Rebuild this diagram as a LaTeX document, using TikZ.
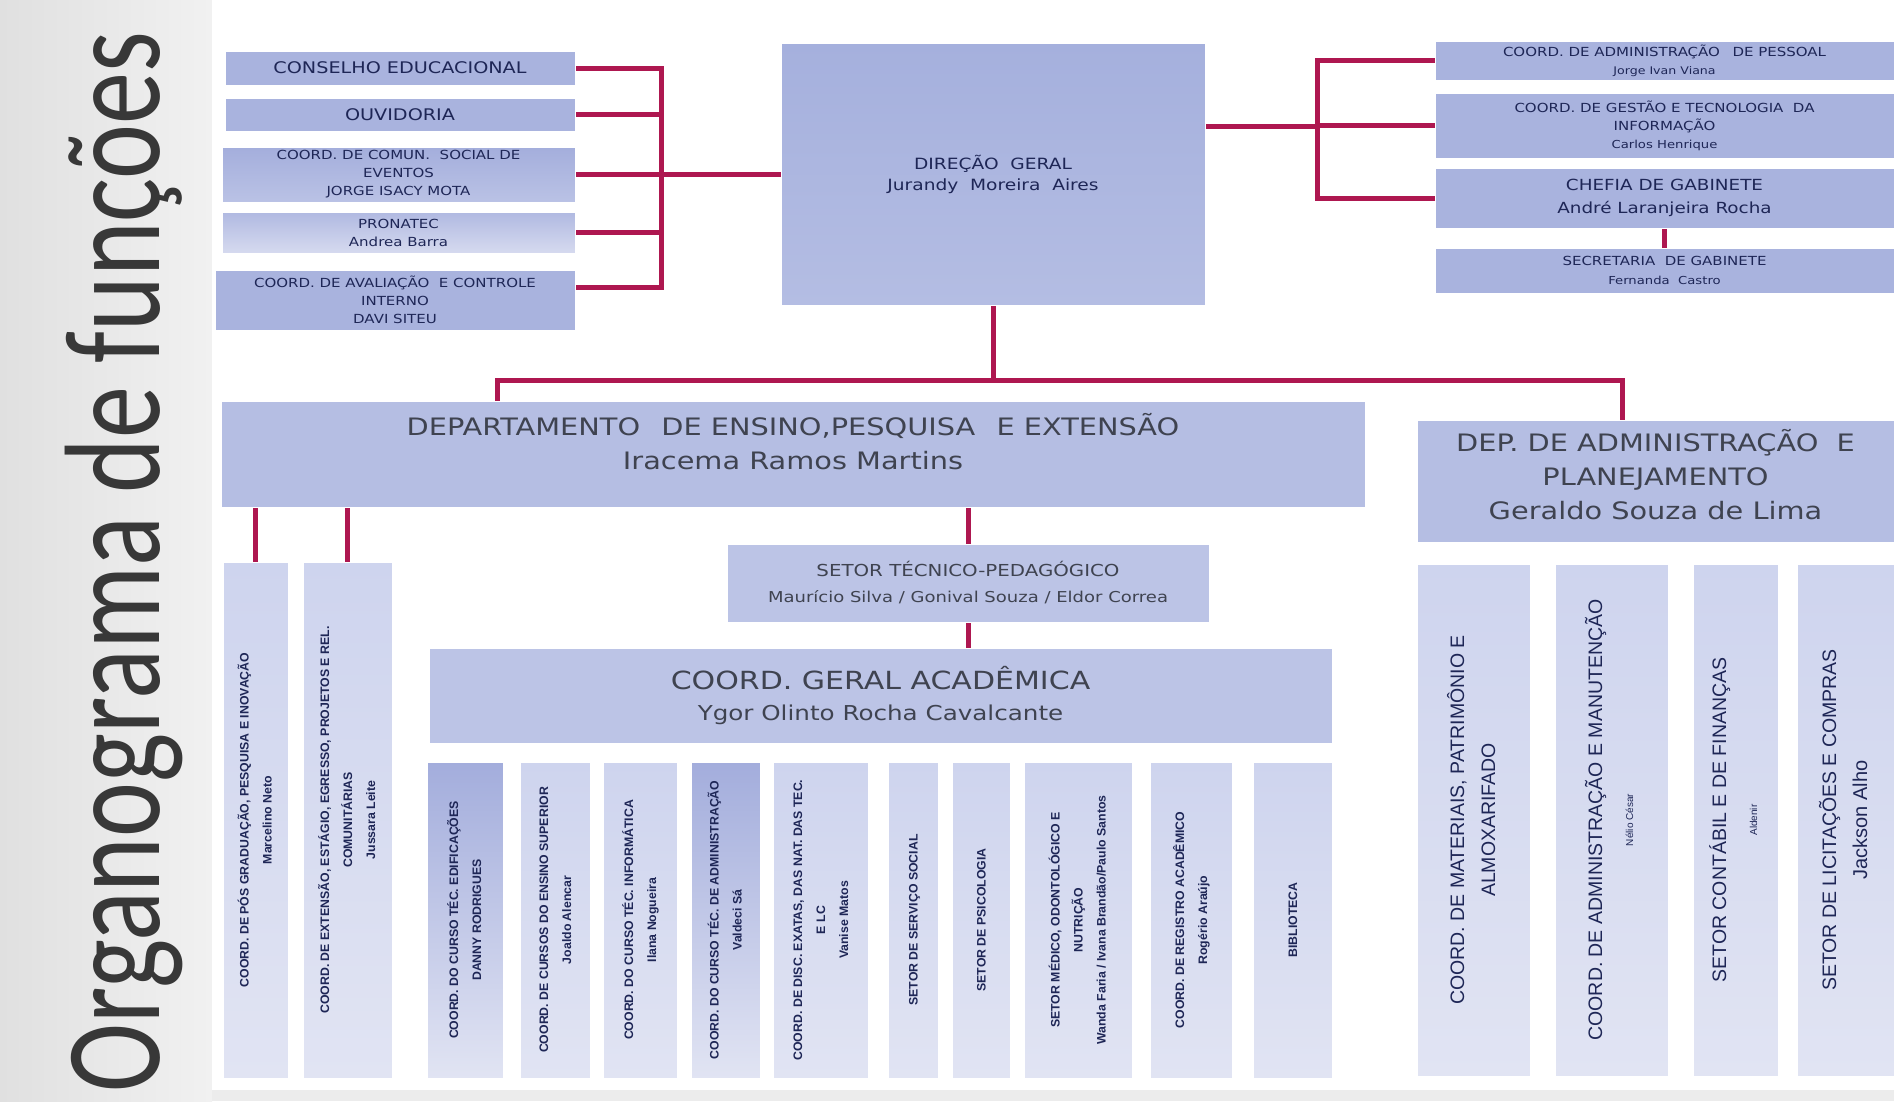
\documentclass[tikz,border=0pt]{standalone}
\usepackage{fontspec}
\usepackage{graphicx}
\setmainfont{DejaVu Sans}
\newfontfamily\wfont[FakeStretch=1.2]{DejaVu Sans}
\newfontfamily\nfont{Liberation Sans}
\newfontfamily\tfont{Carlito}
\definecolor{conncol}{HTML}{AE1750}
\definecolor{boxA}{HTML}{A9B3DE}
\definecolor{boxB}{HTML}{B5BEE3}
\definecolor{boxC}{HTML}{CED4EE}
\definecolor{boxCl}{HTML}{E1E4F3}
\definecolor{boxD}{HTML}{A3ADDC}
\definecolor{boxE}{HTML}{BCC4E6}
\definecolor{a3t}{HTML}{A4AEDC}
\definecolor{a3b}{HTML}{BAC2E5}
\definecolor{a4t}{HTML}{B0B9E1}
\definecolor{a4b}{HTML}{D6DAEF}
\definecolor{dt}{HTML}{A5B0DD}
\definecolor{db}{HTML}{B4BDE3}
\definecolor{navy}{HTML}{1E2656}
\definecolor{gtxt}{HTML}{3F4350}
\definecolor{titlecol}{HTML}{383838}
\definecolor{bggray}{HTML}{ECECEC}
\definecolor{stripL}{HTML}{E0E0E0}
\definecolor{stripR}{HTML}{F1F1F1}
\pgfdeclarelayer{bg}
\pgfdeclarelayer{lines}
\pgfsetlayers{bg,lines,main}
\newcommand{\vtext}[1]{\rotatebox{90}{\begin{tabular}{@{}c@{}}#1\end{tabular}}}
\begin{document}
\begin{tikzpicture}[x=1pt,y=-1pt,
  topbox/.style={draw=white, line width=1pt, inner sep=0pt, align=center, text=navy, fill=boxA},
  midbox/.style={draw=white, line width=1pt, inner sep=0pt, align=center, text=gtxt, fill=boxB},
  lowbox/.style={draw=white, line width=1pt, inner sep=0pt, text=navy, top color=boxC, bottom color=boxCl},
  conn/.style={draw=conncol, line width=5pt},
  smallf/.style={font=\wfont\fontsize{12.5}{18}\selectfont},
  midf/.style={font=\wfont\fontsize{16}{21}\selectfont},
  bigf/.style={font=\wfont\fontsize{24}{34}\selectfont},
  vf/.style={font=\nfont\bfseries\fontsize{12.3}{23}\selectfont},
  rf/.style={font=\nfont\fontsize{19.5}{31}\selectfont}
]
\useasboundingbox (0,0) rectangle (1894,1101);
\begin{pgfonlayer}{bg}
\fill[bggray] (0,0) rectangle (1894,1101);
\shade[left color=stripL, right color=stripR] (0,0) rectangle (212,1101);
\fill[white] (212,0) rectangle (1894,1090);
\end{pgfonlayer}

% title
\node[anchor=base west, rotate=90, inner sep=0pt, text=titlecol, font=\tfont\fontsize{136}{136}\selectfont] (title) at (159,1093) {\scalebox{0.765}[1]{Organograma de funções}};

% top-left boxes
\node[topbox, midf, minimum width=350, minimum height=34] (A1) at (400,68) {CONSELHO EDUCACIONAL};
\node[topbox, midf, minimum width=350, minimum height=33] (A2) at (400,114.5) {OUVIDORIA};
\node[topbox, smallf, minimum width=353, minimum height=55, top color=a3t, bottom color=a3b] (A3) at (398.5,174.5) {COORD. DE COMUN.\ \ SOCIAL DE\\EVENTOS\\JORGE ISACY MOTA};
\node[topbox, smallf, minimum width=353, minimum height=41, top color=a4t, bottom color=a4b] (A4) at (398.5,232.5) {PRONATEC\\Andrea Barra};
\node[topbox, smallf, minimum width=360, minimum height=60] (A5) at (395,300) {COORD. DE AVALIAÇÃO\ \ E CONTROLE\\INTERNO\\DAVI SITEU};

% direction
\node[topbox, font=\wfont\fontsize{15.5}{21}\selectfont, minimum width=424, minimum height=262, top color=dt, bottom color=db] (D) at (993,174) {DIREÇÃO\ \ GERAL\\Jurandy\ \ Moreira\ \ Aires};

% top-right boxes
\node[topbox, smallf, minimum width=459, minimum height=39] (B1) at (1664.5,60.5) {COORD. DE ADMINISTRAÇÃO\quad DE PESSOAL\\{\fontsize{10.5}{15}\selectfont Jorge Ivan Viana}};
\node[topbox, smallf, minimum width=459, minimum height=65] (B2) at (1664.5,125.5) {COORD. DE GESTÃO E TECNOLOGIA\ \ DA\\INFORMAÇÃO\\{\fontsize{11}{15}\selectfont Carlos Henrique}};
\node[topbox, font=\wfont\fontsize{15.3}{23}\selectfont, minimum width=459, minimum height=60] (B3) at (1664.5,198) {CHEFIA DE GABINETE\\André Laranjeira Rocha};
\node[topbox, font=\wfont\fontsize{12.5}{19}\selectfont, minimum width=459, minimum height=45] (B4) at (1664.5,270.5) {SECRETARIA\ \ DE GABINETE\\{\fontsize{11}{15}\selectfont Fernanda\ \ Castro}};

% departments
\node[midbox, minimum width=1144, minimum height=106] (DEPT) at (793,454) {};
\node[inner sep=0pt, align=center, text=gtxt, bigf] (DEPTtxt) at ([yshift=12pt]DEPT.center) {DEPARTAMENTO\enspace\ DE ENSINO,PESQUISA\enspace\ E EXTENSÃO\\Iracema\ Ramos\ Martins};
\node[midbox, minimum width=477, minimum height=122] (DEPADM) at (1655.5,481) {};
\node[inner sep=0pt, align=center, text=gtxt, bigf] (DEPADMtxt) at ([yshift=6pt]DEPADM.center) {DEP. DE ADMINISTRAÇÃO\ \ E\\PLANEJAMENTO\\Geraldo Souza de Lima};

\node[midbox, font=\wfont\fontsize{16.5}{26}\selectfont, fill=boxE, minimum width=482, minimum height=78] (ST) at (968,583) {SETOR TÉCNICO-PEDAGÓGICO\\{\fontsize{15}{20}\selectfont Maurício Silva / Gonival Souza / Eldor Correa}};
\node[midbox, font=\wfont\fontsize{25}{31}\selectfont, fill=boxE, minimum width=903, minimum height=95] (CGA) at (880.5,695.5) {COORD. GERAL ACADÊMICA\\{\fontsize{20.5}{28}\selectfont Ygor Olinto Rocha Cavalcante}};

% left vertical boxes
\node[lowbox, vf, minimum width=65, minimum height=516] (L1) at (255.5,820) {\vtext{COORD. DE PÓS GRADUAÇÃO, PESQUISA E INOVAÇÃO\\Marcelino Neto}};
\node[lowbox, vf, minimum width=89, minimum height=516] (L2) at (347.5,820) {\vtext{COORD. DE EXTENSÃO, ESTÁGIO, EGRESSO, PROJETOS E REL.\\COMUNITÁRIAS\\Jussara Leite}};

% academic boxes
\node[lowbox, vf, minimum width=76, minimum height=316, top color=boxD] (C1) at (465,920) {\vtext{COORD. DO CURSO TÉC. EDIFICAÇÕES\\DANNY RODRIGUES}};
\node[lowbox, vf, minimum width=70, minimum height=316] (C2) at (555,920) {\vtext{COORD. DE CURSOS DO ENSINO SUPERIOR\\Joaldo Alencar}};
\node[lowbox, vf, minimum width=74, minimum height=316] (C3) at (640,920) {\vtext{COORD. DO CURSO TÉC. INFORMÁTICA\\Ilana Nogueira}};
\node[lowbox, vf, minimum width=69, minimum height=316, top color=boxD] (C4) at (725.5,920) {\vtext{COORD. DO CURSO TÉC. DE ADMINISTRAÇÃO\\Valdeci Sá}};
\node[lowbox, vf, minimum width=95, minimum height=316] (C5) at (820.5,920) {\vtext{COORD. DE DISC. EXATAS, DAS NAT. DAS TEC.\\E LC\\Vanise Matos}};
\node[lowbox, vf, minimum width=50, minimum height=316] (C6) at (913,920) {\vtext{SETOR DE SERVIÇO SOCIAL}};
\node[lowbox, vf, minimum width=58, minimum height=316] (C7) at (981,920) {\vtext{SETOR DE PSICOLOGIA}};
\node[lowbox, vf, minimum width=108, minimum height=316] (C8) at (1078,920) {\vtext{SETOR MÉDICO, ODONTOLÓGICO E\\NUTRIÇÃO\\Wanda Faria / Ivana Brandão/Paulo Santos}};
\node[lowbox, vf, minimum width=82, minimum height=316] (C9) at (1191,920) {\vtext{COORD. DE REGISTRO ACADÊMICO\\Rogério Araújo}};
\node[lowbox, vf, minimum width=79, minimum height=316] (C10) at (1292.5,920) {\vtext{BIBLIOTECA}};

% administration boxes
\node[lowbox, rf, minimum width=113, minimum height=512] (R1) at (1473.5,820) {\vtext{COORD. DE MATERIAIS,\ PATRIMÔNIO E\\ALMOXARIFADO}};
\node[lowbox, rf, minimum width=113, minimum height=512] (R2) at (1611.5,820) {\vtext{COORD. DE ADMINISTRAÇÃO\ E MANUTENÇÃO\\{\fontsize{10}{12}\selectfont Nélio César}}};
\node[lowbox, rf, minimum width=85, minimum height=512] (R3) at (1735.5,820) {\vtext{SETOR\ CONTÁBIL E DE FINANÇAS\\{\fontsize{10}{12}\selectfont Aldenir}}};
\node[lowbox, rf, minimum width=97, minimum height=512] (R4) at (1845.5,820) {\vtext{SETOR DE LICITAÇÕES E COMPRAS\\{\fontsize{20}{24}\selectfont Jackson Alho}}};

% connectors
\coordinate (LB) at (661,174);
\coordinate (RB) at (1317,126);
\coordinate (HL) at (497,380);
\coordinate (HR) at (1622,380);
\begin{pgfonlayer}{lines}
\draw[conn] (A1.east) -- (A1.east -| LB);
\draw[conn] (A2.east) -- (A2.east -| LB);
\draw[conn] (A3.east) -- (A3.east -| LB);
\draw[conn] (A4.east) -- (A4.east -| LB);
\draw[conn] ([yshift=13pt]A5.east) -- ([yshift=13pt]A5.east -| LB);
\draw[conn, line cap=rect] (A1.east -| LB) -- ([yshift=13pt]A5.east -| LB);
\draw[conn] (LB) -- (D.west);
\draw[conn] (D.east |- RB) -- (RB);
\draw[conn, line cap=rect] (RB |- B1.west) -- (RB |- B3.west);
\draw[conn] (RB |- B1.west) -- (B1.west);
\draw[conn] (RB |- B2.west) -- (B2.west);
\draw[conn] (RB |- B3.west) -- (B3.west);
\draw[conn] (B3.south) -- (B4.north);
\draw[conn] (D.south) -- (D.south |- HL);
\draw[conn, line cap=rect] (HL) -- (HR);
\draw[conn] (HL) -- (HL |- DEPT.north);
\draw[conn] (HR) -- (HR |- DEPADM.north);
\draw[conn] (L1.north) -- (L1.north |- DEPT.south);
\draw[conn] (L2.north) -- (L2.north |- DEPT.south);
\draw[conn] (ST.north) -- (ST.north |- DEPT.south);
\draw[conn] (ST.south) -- (ST.south |- CGA.north);
\end{pgfonlayer}
\end{tikzpicture}
\end{document}
